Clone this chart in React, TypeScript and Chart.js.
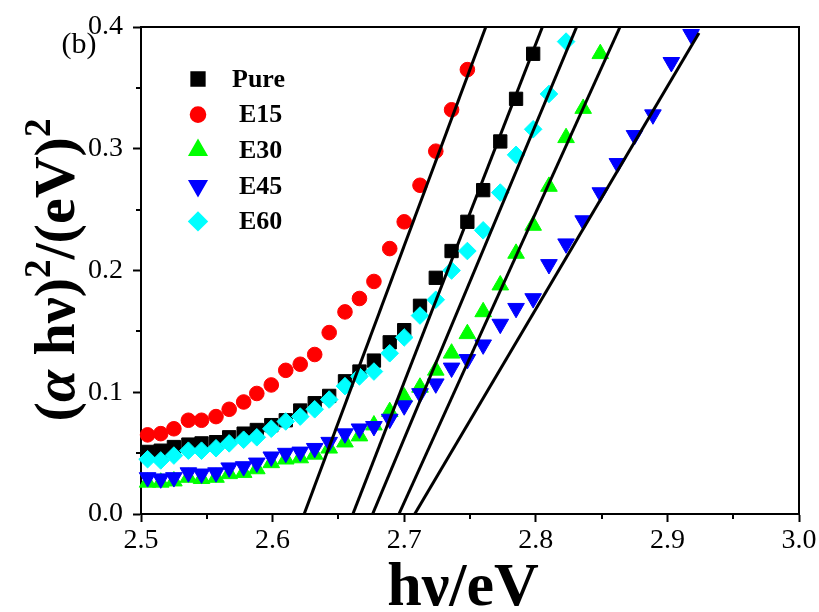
import React, { useEffect, useRef } from 'react';
import { Chart, registerables } from 'chart.js';
import { drawPoint } from 'chart.js/helpers';

Chart.register(...registerables);

// Photon energy (eV) at each measured point, shared by all samples
const energy = [
  2.505, 2.515, 2.525, 2.536, 2.546, 2.557, 2.567, 2.578, 2.588, 2.599,
  2.610, 2.621, 2.632, 2.643, 2.655, 2.666, 2.677, 2.689, 2.700, 2.712,
  2.724, 2.736, 2.748, 2.760, 2.773, 2.785, 2.798, 2.810, 2.823, 2.836,
  2.849, 2.862, 2.875, 2.889, 2.903, 2.918,
];

// (αhν)² values per sample
const pure = [
  0.051, 0.052, 0.055, 0.057, 0.058, 0.059, 0.063, 0.066, 0.069, 0.073,
  0.077, 0.085, 0.091, 0.097, 0.109, 0.117, 0.126, 0.141, 0.151, 0.171,
  0.194, 0.216, 0.240, 0.266, 0.306, 0.341, 0.378,
];
const e15 = [
  0.065, 0.066, 0.070, 0.077, 0.077, 0.080, 0.086, 0.092, 0.099, 0.106,
  0.118, 0.123, 0.131, 0.149, 0.166, 0.177, 0.191, 0.218, 0.240, 0.270,
  0.298, 0.332, 0.365, 0.408,
];
const e30 = [
  0.026, 0.026, 0.027, 0.030, 0.029, 0.030, 0.033, 0.034, 0.037, 0.042,
  0.045, 0.046, 0.049, 0.054, 0.059, 0.064, 0.073, 0.084, 0.096, 0.104,
  0.118, 0.132, 0.148, 0.166, 0.188, 0.214, 0.237, 0.269, 0.309, 0.333,
  0.378,
];
const e45 = [
  0.030, 0.029, 0.030, 0.034, 0.033, 0.034, 0.038, 0.039, 0.042, 0.047,
  0.050, 0.051, 0.054, 0.059, 0.066, 0.070, 0.072, 0.078, 0.089, 0.099,
  0.107, 0.120, 0.127, 0.139, 0.156, 0.169, 0.177, 0.205, 0.222, 0.241,
  0.264, 0.288, 0.311, 0.328, 0.371, 0.394,
];
const e60 = [
  0.045, 0.044, 0.048, 0.052, 0.052, 0.054, 0.058, 0.061, 0.063, 0.070,
  0.076, 0.080, 0.086, 0.094, 0.105, 0.113, 0.117, 0.132, 0.145, 0.163,
  0.176, 0.200, 0.216, 0.233, 0.264, 0.295, 0.316, 0.345, 0.388,
];

// Linear extrapolations of the absorption edges: [start, end]
const fitPureX = [2.661, 2.805];
const fitPureY = [0, 0.4];
const fitE15X = [2.624, 2.762];
const fitE15Y = [0, 0.4];
const fitE30X = [2.696, 2.864];
const fitE30Y = [0, 0.4];
const fitE45X = [2.708, 2.924];
const fitE45Y = [0, 0.395];
const fitE60X = [2.676, 2.831];
const fitE60Y = [0, 0.4];

const xTicks = [2.5, 2.6, 2.7, 2.8, 2.9, 3.0];
const yTicks = [0.0, 0.1, 0.2, 0.3, 0.4];

const SERIF = "'Liberation Serif', 'Times New Roman', Times, serif";

type Series = {
  label: string;
  values: number[];
  color: string;
  pointStyle: string;
  radius: number;
  rotation: number;
  order: number;
};

const series: Series[] = [
  { label: 'Pure', values: pure, color: '#000000', pointStyle: 'rect', radius: 9.4, rotation: 0, order: 6 },
  { label: 'E15', values: e15, color: '#ff0000', pointStyle: 'circle', radius: 7.3, rotation: 0, order: 5 },
  { label: 'E30', values: e30, color: '#00ff00', pointStyle: 'triangle', radius: 9.6, rotation: 0, order: 4 },
  { label: 'E45', values: e45, color: '#0000ff', pointStyle: 'triangle', radius: 9.6, rotation: 180, order: 3 },
  { label: 'E60', values: e60, color: '#00ffff', pointStyle: 'rectRot', radius: 8.8, rotation: 0, order: 2 },
];

const fits = [
  [fitPureX, fitPureY],
  [fitE15X, fitE15Y],
  [fitE30X, fitE30Y],
  [fitE45X, fitE45Y],
  [fitE60X, fitE60Y],
];

const toPoints = (xs: number[], ys: number[]) => ys.map((y, i) => ({ x: xs[i], y }));

const decorations = {
  id: 'decorations',
  afterDraw(chart: any) {
    const { ctx, chartArea } = chart;
    const { left, right, top, bottom } = chartArea;
    const xs = chart.scales.x;
    const ys = chart.scales.y;
    ctx.save();

    // top and right frame lines
    ctx.strokeStyle = '#000';
    ctx.lineWidth = 2;
    ctx.beginPath();
    ctx.moveTo(left - 1, top);
    ctx.lineTo(right, top);
    ctx.lineTo(right, bottom + 1);
    ctx.stroke();

    // minor ticks halfway between the labelled ones
    ctx.lineWidth = 2;
    ctx.beginPath();
    for (let i = 0; i < xTicks.length - 1; i++) {
      const px = Math.round(xs.getPixelForValue((xTicks[i] + xTicks[i + 1]) / 2));
      ctx.moveTo(px, bottom);
      ctx.lineTo(px, bottom + 5);
    }
    for (let i = 0; i < yTicks.length - 1; i++) {
      const py = Math.round(ys.getPixelForValue((yTicks[i] + yTicks[i + 1]) / 2));
      ctx.moveTo(left, py);
      ctx.lineTo(left - 5, py);
    }
    ctx.stroke();

    // legend
    const lx = 198;
    const ly0 = 79;
    const dy = 35.6;
    series.forEach((s, i) => {
      const y = ly0 + i * dy;
      ctx.fillStyle = s.color;
      ctx.strokeStyle = s.color;
      drawPoint(ctx, { pointStyle: s.pointStyle as any, radius: s.radius, rotation: s.rotation, borderWidth: 1 }, lx, y);
      ctx.fillStyle = '#000';
      ctx.font = `bold 26px ${SERIF}`;
      ctx.textAlign = 'left';
      ctx.textBaseline = 'middle';
      ctx.fillText(s.label, i === 0 ? 232 : 239, y + 1);
    });

    // panel tag
    ctx.fillStyle = '#000';
    ctx.font = `30px ${SERIF}`;
    ctx.textAlign = 'center';
    ctx.textBaseline = 'middle';
    ctx.fillText('(b)', 79, 45);

    // x axis title
    ctx.font = `bold 62px ${SERIF}`;
    ctx.textAlign = 'center';
    ctx.textBaseline = 'alphabetic';
    ctx.fillText('hν/eV', 463, 605);

    // y axis title, rotated, with italic alpha and superscripts
    const big = `bold 58px ${SERIF}`;
    const ital = `italic bold 58px ${SERIF}`;
    const sup = `bold 37px ${SERIF}`;
    const parts: { t: string; f: string; dy: number }[] = [
      { t: '(', f: big, dy: 0 },
      { t: 'α', f: ital, dy: 0 },
      { t: ' hν)', f: big, dy: 0 },
      { t: '2', f: sup, dy: -24 },
      { t: '/(eV)', f: big, dy: 0 },
      { t: '2', f: sup, dy: -24 },
    ];
    let total = 0;
    parts.forEach((p) => {
      ctx.font = p.f;
      total += ctx.measureText(p.t).width;
    });
    ctx.translate(74, 270);
    ctx.rotate(-Math.PI / 2);
    ctx.textAlign = 'left';
    ctx.textBaseline = 'alphabetic';
    let cx = -total / 2;
    parts.forEach((p) => {
      ctx.font = p.f;
      ctx.fillText(p.t, cx, p.dy);
      cx += ctx.measureText(p.t).width;
    });
    ctx.restore();
  },
};

export default function App() {
  const canvasRef = useRef<HTMLCanvasElement | null>(null);

  useEffect(() => {
    if (!canvasRef.current) return;

    const datasets: any[] = [];
    fits.forEach(([fx, fy]) => {
      datasets.push({
        label: '',
        data: toPoints(fx, fy),
        showLine: true,
        borderColor: '#000',
        borderWidth: 3,
        pointRadius: 0,
        order: 0,
      });
    });
    series.forEach((s) => {
      datasets.push({
        label: s.label,
        data: toPoints(energy, s.values),
        showLine: false,
        backgroundColor: s.color,
        borderColor: s.color,
        pointBackgroundColor: s.color,
        pointBorderColor: s.color,
        pointBorderWidth: 1,
        pointStyle: s.pointStyle,
        pointRadius: s.radius,
        pointRotation: s.rotation,
        clip: { left: 20, right: 20, top: 3, bottom: 20 },
        order: s.order,
      });
    });

    const tickFont = { family: SERIF, size: 28 };

    const chart = new Chart(canvasRef.current, {
      type: 'scatter',
      data: { datasets },
      options: {
        animation: false,
        responsive: false,
        devicePixelRatio: 1,
        layout: { padding: { top: 27, right: 20, left: 0, bottom: 0 } },
        plugins: { legend: { display: false }, tooltip: { enabled: false } },
        scales: {
          x: {
            type: 'linear',
            min: 2.5,
            max: 3.0,
            afterBuildTicks: (s: any) => {
              s.ticks = xTicks.map((v) => ({ value: v }));
            },
            afterFit: (s: any) => {
              s.height = 98;
            },
            ticks: {
              callback: (v: any) => Number(v).toFixed(1),
              font: tickFont,
              color: '#000',
              padding: 2,
              maxRotation: 0,
              autoSkip: false,
            },
            grid: {
              drawOnChartArea: false,
              drawTicks: true,
              tickLength: 8,
              tickWidth: 2,
              tickColor: '#000',
            },
            border: { color: '#000', width: 2 },
          },
          y: {
            type: 'linear',
            min: 0,
            max: 0.4,
            afterBuildTicks: (s: any) => {
              s.ticks = yTicks.map((v) => ({ value: v }));
            },
            afterFit: (s: any) => {
              s.width = 141;
            },
            ticks: {
              callback: (v: any) => Number(v).toFixed(1),
              font: tickFont,
              color: '#000',
              padding: 10,
              autoSkip: false,
            },
            grid: {
              drawOnChartArea: false,
              drawTicks: true,
              tickLength: 8,
              tickWidth: 2,
              tickColor: '#000',
            },
            border: { color: '#000', width: 2 },
          },
        },
      },
      plugins: [decorations],
    });

    return () => chart.destroy();
  }, []);

  return (
    <div style={{ position: 'fixed', left: 0, top: 0, width: 819, height: 612, background: '#fff' }}>
      <canvas ref={canvasRef} width={819} height={612} style={{ display: 'block' }} />
    </div>
  );
}
